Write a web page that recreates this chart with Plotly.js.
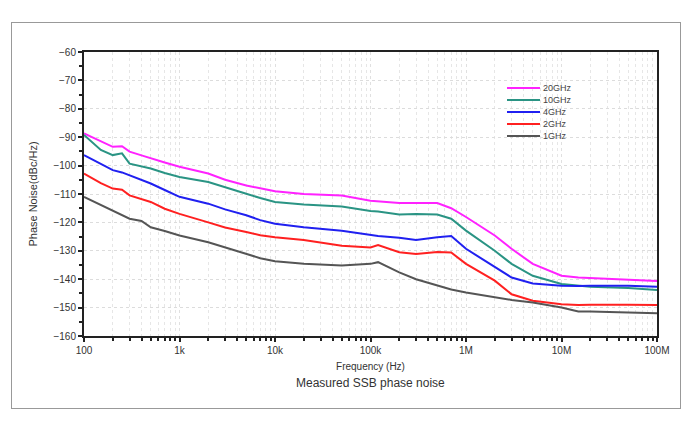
<!DOCTYPE html>
<html lang="en">
<head>
    <meta charset="UTF-8">
    <title>SSB phase noise</title>
    <script src="https://cdn.plot.ly/plotly-3.0.1.min.js"></script>
    <style>
        body { margin: 0; background: white; }
        #frame { position: absolute; left: 11px; top: 22px; width: 668px; height: 385px; border: 1px solid #999; pointer-events: none; }
    </style>
</head>
<body>
<div id="plot" style="width:692px;height:422px;"></div>
<div id="frame"></div>

<script>

    const freq = [100, 150, 200, 250, 300, 400, 500, 700, 1e3, 2e3, 3e3, 5e3, 7e3, 1e4, 2e4, 5e4,
        1e5, 1.2e5, 2e5, 3e5, 5e5, 7e5, 1e6, 2e6, 3e6, 5e6, 1e7, 1.5e7, 2e7, 5e7, 1e8]

    const tickVals = [1e2, 1e3, 1e4, 1e5, 1e6, 1e7, 1e8]
    const tickText = ["100", "1k", "10k", "100k", "1M", "10M", "100M"]

    const names = ["20GHz", "10GHz", "4GHz", "2GHz", "1GHz"]
    const colors = ["#ff22ff", "#2a9484", "#2020f0", "#ff2020", "#555555"]

    const pn20 = [-88.7, -91.6, -93.4, -93.2, -95.1, -96.4, -97.5, -98.9, -100.4, -102.8, -105.0, -107.0, -108.0, -109.0,
        -110.0, -110.5, -112.4, -112.6, -113.2, -113.2, -113.2, -115.0, -118.1, -124.6, -129.3, -134.6, -138.8, -139.4, -139.6, -140.2, -140.6]
    const pn10 = [-89.2, -94.5, -96.3, -95.7, -99.3, -100.3, -101.0, -102.6, -104.0, -105.8, -107.5, -109.9, -111.4, -112.8,
        -113.7, -114.4, -116.0, -116.2, -117.2, -117.0, -117.2, -118.7, -122.9, -130.0, -134.6, -138.8, -141.7, -142.4, -142.7, -143.1, -143.8]
    const pn4 = [-96.3, -99.5, -101.6, -102.4, -103.4, -105.0, -106.3, -108.6, -111.0, -113.4, -115.4, -117.5, -119.2, -120.5,
        -121.7, -122.9, -124.6, -124.8, -125.4, -126.2, -125.2, -124.8, -129.3, -135.8, -139.4, -141.5, -142.3, -142.4, -142.3, -142.3, -142.7]
    const pn2 = [-102.8, -106.2, -108.1, -108.5, -110.5, -111.8, -112.8, -115.2, -117.0, -120.0, -121.8, -123.4, -124.5, -125.2,
        -126.2, -128.2, -128.8, -128.0, -130.5, -131.1, -130.4, -130.6, -134.6, -140.5, -145.3, -147.6, -148.8, -149.1, -149.0, -149.0, -149.1]
    const pn1 = [-111.0, -113.8, -115.8, -117.2, -118.7, -119.5, -121.7, -123.0, -124.6, -127.0, -128.8, -131.1, -132.6, -133.7,
        -134.6, -135.2, -134.6, -134.0, -137.6, -140.0, -142.3, -143.6, -144.7, -146.4, -147.3, -148.2, -150.0, -151.4, -151.4, -151.7, -152.0]

    const series = [pn20, pn10, pn4, pn2, pn1]

    const data = series.map((y, i) => ({
        x: freq,
        y: y,
        name: names[i],
        type: 'scatter',
        mode: 'lines',
        line: {color: colors[i], width: 2},
        showlegend: false
    }))

    // hand drawn legend, plotly's own rows are too tall for this one
    const px = v => (v - 84) / 573
    const py = v => (336 - v) / 284
    const rowY = [88, 100, 112, 124, 136]
    const shapes = []
    const annotations = []
    names.forEach((n, i) => {
        shapes.push({type: 'line', xref: 'paper', yref: 'paper',
            x0: px(507), x1: px(540), y0: py(rowY[i]), y1: py(rowY[i]),
            line: {color: colors[i], width: 2}})
        annotations.push({xref: 'paper', yref: 'paper', x: px(541), y: py(rowY[i]),
            xanchor: 'left', yanchor: 'middle', showarrow: false, text: n,
            font: {size: 9, color: '#444'}})
    })
    annotations.push({xref: 'paper', yref: 'paper', x: 0.5, y: py(383), xanchor: 'center', yanchor: 'middle',
        showarrow: false, text: 'Measured SSB phase noise', font: {size: 12, color: '#333'}})

    const layout = {
        width: 692,
        height: 422,
        margin: {l: 84, r: 35, t: 52, b: 86},
        paper_bgcolor: 'white',
        plot_bgcolor: 'white',
        font: {family: 'Liberation Sans, Arial, sans-serif', size: 10, color: '#333'},
        xaxis: {
            type: 'log',
            range: [2, 8],
            tickmode: 'array',
            tickvals: tickVals,
            ticktext: tickText,
            showline: true, linecolor: '#222', linewidth: 2, mirror: true,
            ticks: 'outside', ticklen: 4, tickwidth: 2, tickcolor: '#222',
            showgrid: true, gridcolor: '#e0e0e0', griddash: 'dot',
            minor: {tickmode: 'array', tickvals: [], ticks: 'outside', ticklen: 3, tickwidth: 2, tickcolor: '#222',
                showgrid: true, gridcolor: '#e6e6e6', griddash: 'dot'},
            zeroline: false,
            title: {text: 'Frequency (Hz)', font: {size: 10, color: '#333'}, standoff: 8}
        },
        yaxis: {
            range: [-160, -60],
            dtick: 10,
            showline: true, linecolor: '#222', linewidth: 2, mirror: true,
            ticks: 'outside', ticklen: 4, tickwidth: 2, tickcolor: '#222',
            showgrid: true, gridcolor: '#dcdcdc', griddash: 'dot',
            minor: {dtick: 5, ticks: 'outside', ticklen: 3, tickwidth: 2, tickcolor: '#222', showgrid: false},
            zeroline: false,
            title: {text: 'Phase Noise(dBc/Hz)', font: {size: 11, color: '#333'}, standoff: 14}
        },
        shapes: shapes,
        annotations: annotations
    }

    // minor ticks at 2..9 of every decade
    const minorVals = []
    for (let d = 2; d < 8; d++) {
        for (let m = 2; m <= 9; m++) minorVals.push(m * Math.pow(10, d))
    }
    layout.xaxis.minor.tickvals = minorVals

    Plotly.newPlot("plot", data, layout, {staticPlot: true})

</script>
</body>
</html>
